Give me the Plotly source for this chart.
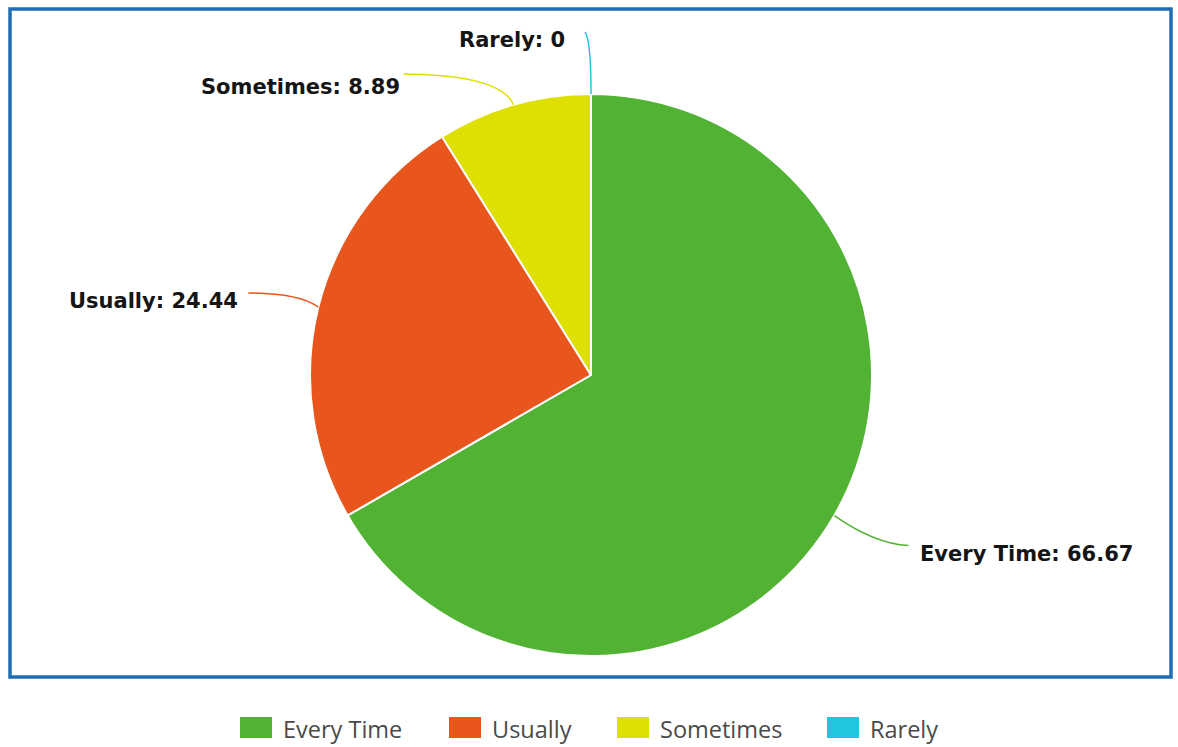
import math
import plotly.graph_objects as go

categories = ["Every Time", "Usually", "Sometimes", "Rarely"]
values = [66.67, 24.44, 8.89, 0]
colors = ["#52b234", "#e8561d", "#dde000", "#22c5e0"]

W, H = 1178, 747
CX, CY, R = 591, 375, 281


def px(x):
    return x / W


def py(y):
    return 1 - y / H


fig = go.Figure()
fig.add_trace(go.Pie(
    labels=categories, values=values, sort=False, direction="clockwise", rotation=0,
    marker=dict(colors=colors, line=dict(color="white", width=2)),
    textinfo="none", showlegend=False,
    domain=dict(x=[px(CX - R), px(CX + R)], y=[py(CY + R), py(CY - R)]),
))

# leader-line geometry relative to each slice's mid-angle anchor (layout only)
line_end = [(74, 30), (-70, -14), (-110, -31), (-6, -62)]
line_ctrl = [(40, 28), (-20, -14), (-12, -30), (0, -54)]
text_off = [(10, 8), (-8, 8), (-2, 13), (-18, 8)]
text_anchor = ["left", "right", "right", "right"]

total = sum(values)
shapes = []
annotations = []
cum = 0
for i, (cat, v) in enumerate(zip(categories, values)):
    mid = (cum + v / 2) / total
    cum += v
    th = 2 * math.pi * mid
    ax = CX + R * math.sin(th)
    ay = CY - R * math.cos(th)
    ex, ey = ax + line_end[i][0], ay + line_end[i][1]
    cx, cy = ax + line_ctrl[i][0], ay + line_ctrl[i][1]
    path = f"M{px(ax)},{py(ay)} Q{px(cx)},{py(cy)} {px(ex)},{py(ey)}"
    shapes.append(dict(type="path", xref="paper", yref="paper", path=path,
                       line=dict(color=colors[i], width=1.5)))
    label = f"{cat}: {v:g}" if v != int(v) else f"{cat}: {int(v)}"
    annotations.append(dict(
        x=px(ex + text_off[i][0]), y=py(ey + text_off[i][1]), xref="paper", yref="paper",
        text=f"<b>{label}</b>", showarrow=False, xanchor=text_anchor[i], yanchor="middle",
        font=dict(family="DejaVu Sans, sans-serif", size=21, color="#151515"),
    ))

# outer blue frame
shapes.append(dict(type="rect", xref="paper", yref="paper",
                   x0=px(10), x1=px(1171), y0=py(9), y1=py(677),
                   line=dict(color="#1f6db5", width=3.5), layer="below"))

# custom legend
legend_x = [240, 449, 617, 827]
for i, cat in enumerate(categories):
    lx = legend_x[i]
    shapes.append(dict(type="rect", xref="paper", yref="paper",
                       x0=px(lx), x1=px(lx + 32), y0=py(717), y1=py(738),
                       line=dict(width=0), fillcolor=colors[i]))
    annotations.append(dict(
        x=px(lx + 41), y=py(729), xref="paper", yref="paper", text=cat,
        showarrow=False, xanchor="left", yanchor="middle",
        font=dict(family="Open Sans, sans-serif", size=23.5, color="#4a4a4a"),
    ))

fig.update_layout(
    width=W, height=H, margin=dict(l=0, r=0, t=0, b=0),
    paper_bgcolor="white", plot_bgcolor="white",
    shapes=shapes, annotations=annotations, showlegend=False,
)

fig.write_html("out.html", config={"displayModeBar": False},
               post_script="document.body.style.margin='0';document.body.style.overflow='hidden';")
